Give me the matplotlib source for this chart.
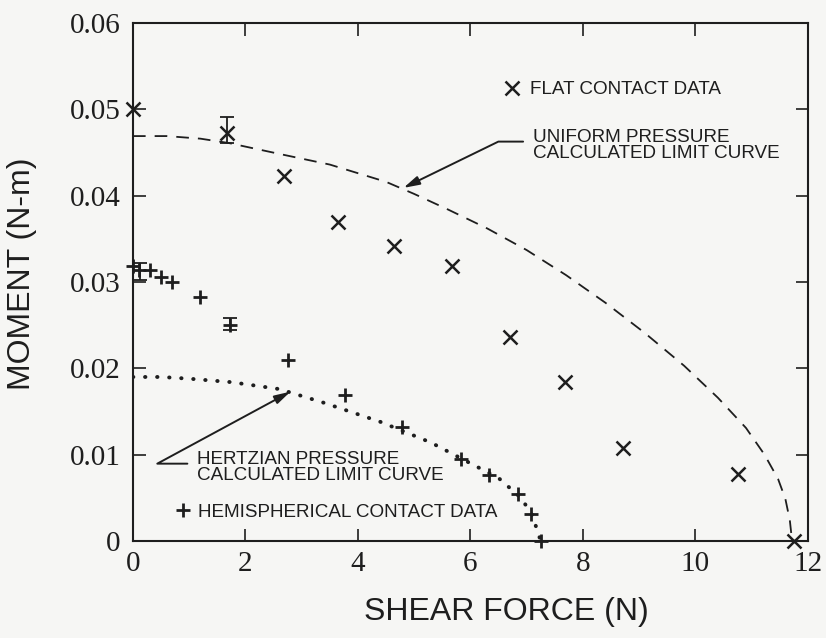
import matplotlib
matplotlib.use("Agg")
import matplotlib.pyplot as plt

# values
flat_x = [0.0, 1.68, 2.68, 3.64, 4.64, 5.68, 6.70, 7.68, 8.71, 10.75, 11.75]
flat_y = [0.0500, 0.0473, 0.0423, 0.0370, 0.0342, 0.0318, 0.0236, 0.0184, 0.0108, 0.0078, 0.0]
flat_err_x = [1.68]
flat_err_y = [0.0476]
flat_err = [0.0015]

hemi_x = [0.0, 0.1, 0.3, 0.5, 0.7, 1.2, 1.73, 2.75, 3.77, 4.79, 5.83, 6.33, 6.84, 7.08, 7.25]
hemi_y = [0.0318, 0.0314, 0.0314, 0.0306, 0.0300, 0.0283, 0.0250, 0.0210, 0.0169, 0.0132,
          0.0095, 0.0076, 0.0055, 0.0031, 0.0]
hemi_err_x = [0.12, 1.73]
hemi_err_y = [0.0312, 0.0251]
hemi_err = [0.0010, 0.0007]

uniform_x = [0.0, 0.6, 1.2, 1.7, 2.2, 2.7, 3.5, 4.5, 5.0, 5.6, 6.3, 7.0, 7.7, 8.4,
             9.1, 9.8, 10.4, 10.9, 11.23, 11.47, 11.6, 11.68, 11.72]
uniform_y = [0.0469, 0.0469, 0.0466, 0.0461, 0.0454, 0.0447, 0.0436, 0.0416, 0.0402,
             0.0384, 0.0362, 0.0337, 0.0308, 0.0276, 0.0241, 0.0203, 0.0166, 0.0131,
             0.0100, 0.0072, 0.0049, 0.0024, 0.0]

hertz_x = [0.0, 0.5, 1.0, 1.75, 2.6, 3.4, 4.4, 5.3, 6.0, 6.5, 6.9, 7.1, 7.25]
hertz_y = [0.0190, 0.0190, 0.0188, 0.0184, 0.0176, 0.0160, 0.0138, 0.0114, 0.0090,
           0.0073, 0.0050, 0.0030, 0.0]

x_ticks = [0, 2, 4, 6, 8, 10, 12]
x_ticklabels = ["0", "2", "4", "6", "8", "10", "12"]
y_ticks = [0, 0.01, 0.02, 0.03, 0.04, 0.05, 0.06]
y_ticklabels = ["0", "0.01", "0.02", "0.03", "0.04", "0.05", "0.06"]

INK = "#1e1e1e"
PAPER = "#f6f6f4"
SANS = "Liberation Sans"
SERIF = "Liberation Serif"
NOTE_SIZE = 13.6

fig = plt.figure(figsize=(8.26, 6.38), dpi=100, facecolor=PAPER)
ax = fig.add_axes([0.161, 0.152, 0.817, 0.812], facecolor=PAPER)

ax.plot(uniform_x, uniform_y, color=INK, lw=1.3, dashes=(7, 5))
ax.plot(hertz_x, hertz_y, color=INK, lw=2.8, dashes=(0.1, 3.0),
        dash_capstyle="round")

flat_line, = ax.plot(flat_x, flat_y, "x", color=INK, ms=10, mew=1.8, clip_on=False)
hemi_line, = ax.plot(hemi_x, hemi_y, "+", color=INK, ms=10, mew=2.0, clip_on=False)
ax.errorbar(flat_err_x, flat_err_y, yerr=flat_err, fmt="none", ecolor=INK,
            elinewidth=1.3, capsize=5, capthick=1.3)
ax.errorbar(hemi_err_x, hemi_err_y, yerr=hemi_err, fmt="none", ecolor=INK,
            elinewidth=1.3, capsize=5, capthick=1.3)

ax.set_xlim(0, 12)
ax.set_ylim(0, 0.06)
ax.set_xticks(x_ticks)
ax.set_xticklabels(x_ticklabels)
ax.set_yticks(y_ticks)
ax.set_yticklabels(y_ticklabels)
ax.tick_params(direction="in", top=True, right=True, length=9, width=1.2,
               colors=INK, labelsize=21)
ax.tick_params(axis="x", pad=7)
ax.tick_params(axis="y", pad=9)
for lab in ax.get_xticklabels() + ax.get_yticklabels():
    lab.set_fontfamily(SERIF)
for sp in ax.spines.values():
    sp.set_linewidth(1.5)
    sp.set_color(INK)

ax.set_xlabel("SHEAR FORCE (N)", fontsize=23, family=SANS, color=INK, va="center")
ax.xaxis.set_label_coords(0.553, -0.137)
ax.set_ylabel("MOMENT (N-m)", fontsize=23, family=SANS, color=INK, va="center")
ax.yaxis.set_label_coords(-0.165, 0.515)

# legend-style keys placed where the original has them
leg1 = ax.legend([flat_line], ["FLAT CONTACT DATA"], loc="center left",
                 bbox_to_anchor=(0.548, 0.871), frameon=False, borderpad=0,
                 borderaxespad=0, handlelength=1.0, handletextpad=0.45,
                 prop={"family": SANS, "size": NOTE_SIZE}, labelcolor=INK)
ax.add_artist(leg1)
ax.legend([hemi_line], ["HEMISPHERICAL CONTACT DATA"], loc="center left",
          bbox_to_anchor=(0.063, 0.056), frameon=False, borderpad=0,
          borderaxespad=0, handlelength=0.8, handletextpad=0.41,
          prop={"family": SANS, "size": NOTE_SIZE}, labelcolor=INK)

arrow = dict(arrowstyle="-|>,head_length=0.8,head_width=0.22", color=INK, lw=1.4,
             mutation_scale=12, relpos=(0, 0.62), shrinkA=5, shrinkB=0)
ax.annotate("UNIFORM PRESSURE\nCALCULATED LIMIT CURVE", xy=(4.81, 0.0409),
            xytext=(7.11, 0.0458), ha="left", va="center", fontsize=NOTE_SIZE,
            family=SANS, color=INK, linespacing=0.93,
            arrowprops=dict(arrow, connectionstyle="angle,angleA=0,angleB=26,rad=0"))
ax.annotate("HERTZIAN PRESSURE\nCALCULATED LIMIT CURVE", xy=(2.80, 0.0173),
            xytext=(1.14, 0.0085), ha="left", va="center", fontsize=NOTE_SIZE,
            family=SANS, color=INK, linespacing=0.93,
            arrowprops=dict(arrow, connectionstyle="angle,angleA=0,angleB=28.4,rad=0"))

fig.savefig("out.png", dpi=100, facecolor=PAPER)
